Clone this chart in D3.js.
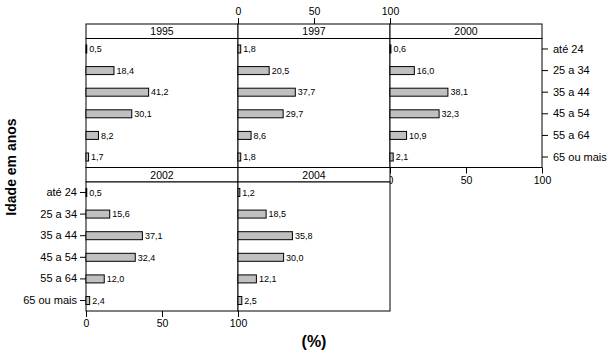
<!DOCTYPE html>
<html>
<head>
<meta charset="utf-8">
<script src="https://cdn.jsdelivr.net/npm/d3@7"></script>
<style>
  body { margin: 0; background: #fff; }
  text { font-family: "Liberation Sans", Arial, sans-serif; }
</style>
</head>
<body>
<div id="content"></div>
<script>
'use strict';
//////////////////// input data
const years = ['1995', '1997', '2000', '2002', '2004'];
const ages = ['até 24', '25 a 34', '35 a 44', '45 a 54', '55 a 64', '65 ou mais'];
const v1995 = [0.5, 18.4, 41.2, 30.1, 8.2, 1.7];
const v1997 = [1.8, 20.5, 37.7, 29.7, 8.6, 1.8];
const v2000 = [0.6, 16.0, 38.1, 32.3, 10.9, 2.1];
const v2002 = [0.5, 15.6, 37.1, 32.4, 12.0, 2.4];
const v2004 = [1.2, 18.5, 35.8, 30.0, 12.1, 2.5];
const xTicks = [0, 50, 100];
const seriesByYear = [v1995, v1997, v2000, v2002, v2004];

//////////////////// layout
const W = 609, H = 353;
const marginLeft = 86, marginTop = 24;
const panelW = 152, stripH = 14.5, bodyH = 129;
const panelH = stripH + bodyH;

const xScale = d3.scaleLinear().domain([0, 100]).range([0, panelW]);
const yScale = d3.scaleBand().domain(ages).range([0, bodyH])
    .paddingInner(0.63).paddingOuter(0.3);

const fmt = v => d3.format('.1f')(v).replace('.', ',');

const svg = d3.select('#content').append('svg')
    .attr('width', W).attr('height', H);

svg.append('rect').attr('width', W).attr('height', H).attr('fill', '#fff');

function styleAxis(size) {
  return g => {
    g.select('.domain').remove();
    g.selectAll('line').attr('stroke', '#000');
    g.selectAll('text').attr('font-size', size).attr('fill', '#000')
      .attr('font-family', '"Liberation Sans", Arial, sans-serif');
  };
}

years.forEach((year, i) => {
  const col = i % 3, row = Math.floor(i / 3);
  const x0 = marginLeft + col * panelW, y0 = marginTop + row * panelH;
  const panel = svg.append('g').attr('transform', 'translate(' + x0 + ',' + y0 + ')');

  // strip
  panel.append('rect').attr('width', panelW).attr('height', stripH)
    .attr('fill', '#fff').attr('stroke', '#000');
  panel.append('text').attr('x', panelW / 2).attr('y', stripH / 2 + 4)
    .attr('text-anchor', 'middle').attr('font-size', 10.5).text(year);

  // body
  const body = panel.append('g').attr('transform', 'translate(0,' + stripH + ')');
  body.append('rect').attr('width', panelW).attr('height', bodyH)
    .attr('fill', '#fff').attr('stroke', '#000');

  const data = ages.map((a, k) => ({ age: a, value: seriesByYear[i][k] }));

  body.selectAll('.bar').data(data).enter().append('rect')
    .attr('class', 'bar')
    .attr('x', 0)
    .attr('y', d => yScale(d.age))
    .attr('width', d => xScale(d.value))
    .attr('height', yScale.bandwidth())
    .attr('fill', '#c0c0c0').attr('stroke', '#000').attr('stroke-width', 1);

  body.selectAll('.lbl').data(data).enter().append('text')
    .attr('class', 'lbl')
    .attr('x', d => xScale(d.value) + 2.5)
    .attr('y', d => yScale(d.age) + yScale.bandwidth() / 2 + 3.2)
    .attr('font-size', 9).text(d => fmt(d.value));

  // axes, alternating as in a lattice plot
  if (year === '1997') {
    panel.append('g').call(d3.axisTop(xScale).tickValues(xTicks).tickSizeOuter(0).tickPadding(3))
      .call(styleAxis(10.5));
  }
  if (year === '2000') {
    body.append('g').attr('transform', 'translate(' + panelW + ',0)')
      .call(d3.axisRight(yScale).tickSizeOuter(0).tickPadding(5)).call(styleAxis(11));
    body.append('g').attr('transform', 'translate(0,' + bodyH + ')')
      .call(d3.axisBottom(xScale).tickValues(xTicks).tickSizeOuter(0).tickPadding(3))
      .call(styleAxis(10.5));
  }
  if (year === '2002') {
    body.append('g').call(d3.axisLeft(yScale).tickSizeOuter(0).tickPadding(3)).call(styleAxis(11));
    body.append('g').attr('transform', 'translate(0,' + bodyH + ')')
      .call(d3.axisBottom(xScale).tickValues(xTicks).tickSizeOuter(0).tickPadding(3))
      .call(styleAxis(10.5));
  }
});

// axis titles
svg.append('text')
  .attr('transform', 'translate(16,167) rotate(-90)')
  .attr('text-anchor', 'middle').attr('font-size', 14).attr('font-weight', 'bold')
  .text('Idade em anos');

svg.append('text')
  .attr('x', 314).attr('y', 347)
  .attr('text-anchor', 'middle').attr('font-size', 16).attr('font-weight', 'bold')
  .text('(%)');
</script>
</body>
</html>
